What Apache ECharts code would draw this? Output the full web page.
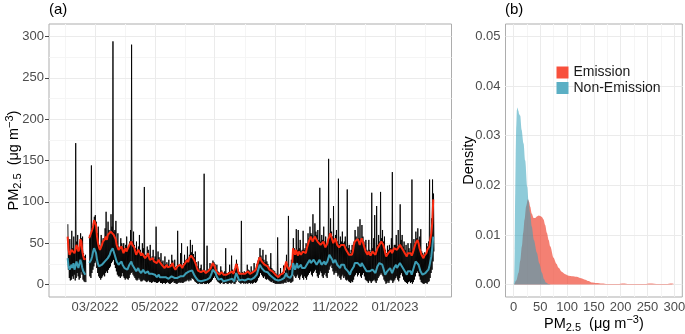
<!DOCTYPE html>
<html><head><meta charset="utf-8">
<script src="https://cdn.jsdelivr.net/npm/echarts/dist/echarts.min.js"></script>
<style>html,body{margin:0;padding:0;background:#fff}#c{width:685px;height:334px}</style>
</head><body><div id="c"></div>
<script>
// ---------- data ----------
const startDate = [2022, 1, 1]; // 1 Feb 2022 (UTC), daily values follow
// Emission (red) daily
const emission = [
 58,42,36,38,42,40,44,38,42,48,45,40,43,55,52,40,34,30,32,null,null,null,56,54,58,66,70,78,
 80,72,58,50,45,42,44,48,52,50,55,58,54,60,62,58,64,65,62,60,62,55,48,45,42,40,44,46,42,38,40,
 44,40,38,42,48,50,52,48,50,45,40,36,38,42,40,38,35,38,40,36,32,30,35,38,33,30,28,30,32,28,
 30,28,26,28,30,27,25,24,26,22,20,22,24,21,20,19,22,24,26,22,20,18,19,22,20,21,24,22,20,23,25,
 26,28,30,27,32,30,35,36,34,30,28,24,20,17,16,18,15,14,16,17,15,14,16,15,17,18,20,22,26,24,
 22,18,15,14,13,12,14,15,13,12,14,13,12,11,13,14,12,15,16,13,12,20,25,22,16,13,12,14,13,12,14,
 13,12,14,16,15,13,14,12,15,16,14,18,22,26,30,33,32,28,30,27,24,26,25,22,20,18,17,18,16,15,14,
 12,10,11,9,10,12,11,13,14,12,15,28,22,20,18,16,20,24,44,40,36,42,38,35,40,42,36,38,40,38,
 40,38,44,48,52,55,58,56,52,54,58,60,56,52,50,54,48,46,50,52,48,45,44,50,55,58,62,60,54,50,48,
 56,52,48,50,45,44,48,50,46,48,45,42,44,40,36,34,38,36,40,48,52,54,50,55,52,48,50,56,54,48,
 44,40,38,36,40,38,35,37,40,42,38,36,40,44,46,48,50,52,50,48,44,38,34,35,38,36,40,42,38,36,44,
 44,46,42,40,44,48,50,46,42,40,38,36,34,38,40,36,38,35,38,42,46,50,52,54,50,44,40,36,34,32,35,
 34,38,42,40,46,55,62,75,103
];
// Non-Emission (blue) daily
const nonEmission = [
 32,22,18,20,24,20,26,18,22,28,24,20,22,30,26,20,16,14,12,null,null,null,26,24,30,34,40,44,
 46,38,30,25,22,20,22,24,26,24,28,30,28,32,34,36,40,42,44,40,36,32,28,26,24,22,25,28,24,22,20,
 22,20,18,20,24,26,28,24,22,20,18,16,18,20,17,15,14,16,18,16,14,12,14,16,13,12,11,13,14,12,
 12,10,9,10,12,9,8,7,9,8,7,9,10,8,7,6,8,10,12,9,8,7,6,8,9,8,10,9,8,10,12,
 12,14,15,13,16,15,18,17,15,12,10,8,6,5,6,5,4,5,6,5,4,5,6,5,7,8,10,14,18,20,
 18,14,10,8,6,5,6,7,5,4,5,6,5,4,5,6,5,6,7,5,4,10,14,12,8,5,4,5,6,5,6,
 5,6,5,7,6,5,6,5,7,8,7,9,12,16,20,24,22,20,18,20,16,14,16,15,13,12,10,11,9,8,7,
 6,5,4,5,4,5,6,5,7,8,6,14,10,9,10,8,10,12,26,22,18,22,26,20,18,22,24,20,18,22,
 20,18,22,26,28,30,26,24,28,30,32,28,24,22,26,30,28,24,22,26,28,24,22,28,32,36,38,34,30,26,28,
 30,28,24,26,22,20,24,26,22,24,20,18,20,16,14,12,16,14,18,22,26,28,24,26,28,24,22,26,28,24,
 20,18,16,14,18,16,14,16,18,20,16,14,18,22,24,26,28,26,24,20,16,12,14,16,14,18,20,18,14,16,20,
 22,24,20,18,22,26,28,24,20,18,16,14,12,16,18,14,16,12,16,20,24,28,30,28,24,20,16,14,12,10,12,
 14,12,16,18,22,28,34,45,58
];
// Observed PM2.5 (black): daily minimum and daily maximum
const pmDailyLow = [
 18,8,5,6,10,7,12,5,8,14,10,6,8,15,12,6,4,3,3,null,null,null,10,8,14,18,22,26,
 28,20,14,10,8,6,8,10,12,10,14,16,14,18,20,22,26,28,30,24,20,16,12,10,10,8,10,14,10,8,6,
 8,7,6,8,12,14,15,12,10,8,6,5,6,8,6,4,4,5,6,5,4,3,4,5,3,3,2,3,4,3,
 3,2,2,3,4,2,2,1,2,2,1,2,3,2,1,1,2,3,4,2,2,1,1,2,3,2,3,2,2,3,4,
 4,5,6,4,6,5,8,7,6,4,3,2,1,1,2,1,1,1,2,1,1,1,2,1,2,3,4,6,8,10,
 8,6,4,3,2,1,2,3,1,1,2,2,1,1,2,2,1,2,3,1,1,3,6,5,3,2,1,2,2,1,2,
 1,2,1,2,2,1,2,1,2,3,2,3,5,8,10,14,12,10,8,10,7,6,7,6,5,4,3,4,2,2,1,
 1,1,1,1,1,1,2,1,2,3,2,5,3,3,4,2,3,4,12,10,8,10,12,8,6,10,12,8,6,10,
 8,6,10,12,14,16,12,10,14,16,18,14,10,8,12,16,14,10,8,12,14,10,8,14,18,22,24,20,16,12,14,
 16,14,10,12,8,6,10,12,8,10,6,5,6,4,3,2,4,3,6,10,12,14,10,12,14,10,8,12,14,10,
 6,5,4,2,5,4,2,4,5,6,4,2,5,8,10,12,14,12,10,6,4,1,2,4,2,5,6,5,2,4,6,
 8,10,6,4,8,12,14,10,6,4,3,2,1,3,4,2,3,1,3,6,10,14,16,14,10,6,3,2,1,1,2,
 2,1,3,4,8,14,18,28,40
];
const pmDailyHigh = [
 73,46,55,40,65,44,58,40,171,52,60,44,48,62,56,58,38,34,36,null,null,null,60,58,144,70,74,82,
 84,76,62,70,48,45,60,52,56,54,68,88,58,76,66,62,85,70,294,64,66,77,52,62,46,44,56,50,46,50,44,
 48,58,42,46,52,66,290,52,64,48,44,52,42,46,60,42,38,50,44,118,36,34,46,42,36,48,32,34,42,31,
 34,70,29,40,33,30,38,27,29,24,34,25,27,24,30,22,25,36,29,25,30,21,22,65,23,24,38,50,23,26,36,
 29,31,46,30,36,54,39,48,37,33,40,27,22,28,18,20,24,16,18,134,17,16,47,17,19,26,22,25,29,27,
 25,20,24,16,15,14,22,17,15,14,16,44,14,13,15,24,14,35,18,15,14,23,30,25,18,15,14,77,15,14,16,
 15,14,24,18,17,15,22,14,17,26,16,20,25,29,33,44,35,31,42,30,27,36,28,25,22,20,38,20,18,17,16,
 14,12,57,11,12,20,13,15,23,14,17,36,25,83,20,18,30,27,56,44,40,67,42,66,44,54,40,42,65,42,
 44,50,48,62,56,70,62,60,85,58,74,64,60,66,54,117,52,60,54,70,52,58,48,54,152,62,80,64,58,95,52,
 60,66,52,128,49,58,52,64,50,52,58,46,115,44,48,38,42,48,44,52,66,58,54,70,56,79,54,72,58,52,
 48,54,42,40,54,42,39,111,44,56,84,40,95,48,60,52,112,56,66,52,58,42,38,47,42,48,44,56,136,40,48,
 48,60,46,66,48,97,54,60,46,52,42,48,38,50,44,40,50,127,42,55,50,64,56,68,54,58,67,40,38,36,39,
 38,50,46,52,127,60,80,127,110
];
// Axis ticks
const xTickDates = ['2022-03-01','2022-05-01','2022-07-01','2022-09-01','2022-11-01','2023-01-01'];
const yTicksA = [0, 50, 100, 150, 200, 250, 300];
const densXTicks = [0, 50, 100, 150, 200, 250, 300];
const densYTicks = [0, 0.01, 0.02, 0.03, 0.04, 0.05];
// Density curves (panel b)
const emissionDensX = [1.5,5,9.4,12.5,15.6,18,20.6,23.5,26.8,29,31.2,34,37.5,40.5,43.6,47,49.8,53,56,59,62.3,65.5,68.5,74.7,80,84,90,96.5,103,109,118,126,134,140,146,155,165,175,185,195,205,215,230,245,255,270,285,295,300];
const emissionDens = [0,0.0008,0.0024,0.0048,0.0077,0.0104,0.0131,0.0158,0.0172,0.0167,0.0157,0.0143,0.0134,0.0134,0.0137,0.0139,0.0138,0.0136,0.0131,0.0120,0.0104,0.0090,0.0077,0.0054,0.0042,0.0034,0.0026,0.0021,0.0018,0.0017,0.0016,0.0013,0.0010,0.0007,0.0004,0.0003,0.0002,0.0001,0.0001,0.0001,0.0002,0.0001,0.0001,0.0001,0.0002,0.0001,0.0001,0.0002,0.0001];
const nonEmissionDensX = [0.5,1.3,2.2,3.2,4.1,5,6.3,7.5,9,10.5,12.5,15,18.7,21.8,25.6,27.8,31,34,38,43.6,48,53,57,60.5,65,70];
const nonEmissionDens = [0,0.0010,0.0070,0.0185,0.0262,0.0317,0.0352,0.0357,0.0350,0.0343,0.0340,0.0312,0.0284,0.0250,0.0197,0.0171,0.0144,0.0117,0.0090,0.0064,0.0043,0.0024,0.0011,0.0004,0.0001,0];

// ---------- build ----------
const DAY = 86400000;
const t0 = Date.UTC(startDate[0], startDate[1], startDate[2]);
const dayT = i => t0 + i * DAY;
const parseD = s => { const p = s.split('-').map(Number); return Date.UTC(p[0], p[1]-1, p[2]); };
const xTicksT = xTickDates.map(parseD);
const xMinorT = [];
xMinorT.push(xTicksT[0] - (xTicksT[1]-xTicksT[0])/2);
for (let i=0;i<xTicksT.length-1;i++) xMinorT.push((xTicksT[i]+xTicksT[i+1])/2);
xMinorT.push(xTicksT[xTicksT.length-1] + (xTicksT[xTicksT.length-1]-xTicksT[xTicksT.length-2])/2);
const mids = a => a.slice(0,-1).map((v,i)=>(v+a[i+1])/2);

const redData = emission.map((v,i)=>[dayT(i), v]);
const blueData = nonEmission.map((v,i)=>[dayT(i), v]);
const blackData = [];
pmDailyLow.forEach((lo,i)=>{
  blackData.push([dayT(i) + 0.25*DAY, pmDailyHigh[i]]);
  blackData.push([dayT(i) + 0.75*DAY, lo]);
});
const emDensData = emissionDensX.map((x,i)=>[x, emissionDens[i]]);
const neDensData = nonEmissionDensX.map((x,i)=>[x, nonEmissionDens[i]]);

const MAJ = '#EBEBEB', MIN = '#F5F5F5';
const FONT = 'Liberation Sans, Arial, sans-serif';
const vl = (vals, c, w) => vals.map(v=>({xAxis: v, lineStyle:{color:c, width:w, type:'solid'}}));
const hl = (vals, c, w) => vals.map(v=>({yAxis: v, lineStyle:{color:c, width:w, type:'solid'}}));
const gridMark = (data) => ({ silent:true, symbol:['none','none'], z:1, animation:false,
  label:{show:false}, emphasis:{disabled:true}, data });

const fmtMonth = v => { const d = new Date(v); const m = d.getUTCMonth()+1; return (m<10?'0':'')+m+'/'+d.getUTCFullYear(); };
const pmRich = {
  sub: {fontSize: 11, lineHeight: 11, padding: [8,0,0,0], fontFamily: FONT, color:'#000'},
  sup: {fontSize: 11, lineHeight: 11, padding: [0,0,8,0], fontFamily: FONT, color:'#000'}
};
const pmName = 'PM{sub|2.5}  (μg m{sup|−3})';
const tickStyle = {show:true, length:4, inside:false, lineStyle:{color:'#444', width:1}};
const lblStyle = {color:'#4D4D4D', fontSize:13, fontFamily:FONT};

const option = {
  animation: false,
  backgroundColor: '#fff',
  textStyle: {fontFamily: FONT},
  grid: [
    {left:49, top:24, width:402.5, height:273, show:true, borderColor:'#ADADAD', borderWidth:1, backgroundColor:'rgba(0,0,0,0)', containLabel:false, outerBoundsMode:'none'},
    {left:505.5, top:24, width:176.8, height:273, show:true, borderColor:'#ADADAD', borderWidth:1, backgroundColor:'rgba(0,0,0,0)', containLabel:false, outerBoundsMode:'none'}
  ],
  xAxis: [
    {type:'value', gridIndex:0, min: dayT(-19.0), max: dayT(391.6), scale:true,
     axisLine:{show:false}, splitLine:{show:false}, minorSplitLine:{show:false},
     axisTick:Object.assign({customValues: xTicksT}, tickStyle),
     axisLabel:Object.assign({customValues: xTicksT, formatter: fmtMonth, margin:4}, lblStyle)},
    {type:'value', gridIndex:1, min:-15, max:315,
     axisLine:{show:false}, splitLine:{show:false},
     axisTick:Object.assign({customValues: densXTicks}, tickStyle),
     axisLabel:Object.assign({customValues: densXTicks, margin:4}, lblStyle),
     name: pmName, nameLocation:'middle', nameGap:19, nameMoveOverlap:false,
     nameTextStyle:{fontSize:14.5, color:'#000', fontFamily:FONT, rich: pmRich}}
  ],
  yAxis: [
    {type:'value', gridIndex:0, min:-15, max:315,
     axisLine:{show:false}, splitLine:{show:false},
     axisTick:Object.assign({customValues: yTicksA}, tickStyle),
     axisLabel:Object.assign({customValues: yTicksA, margin:5}, lblStyle),
     name: pmName, nameLocation:'middle', nameGap:28, nameRotate:90, nameMoveOverlap:false,
     nameTextStyle:{fontSize:14.5, color:'#000', fontFamily:FONT, rich: pmRich}},
    {type:'value', gridIndex:1, min:-0.0025, max:0.0525,
     axisLine:{show:false}, splitLine:{show:false},
     axisTick:Object.assign({customValues: densYTicks}, tickStyle),
     axisLabel:Object.assign({customValues: densYTicks, margin:5, formatter: v => v.toFixed(2)}, lblStyle),
     name:'Density', nameLocation:'middle', nameGap:29.5, nameRotate:90, nameMoveOverlap:false,
     nameTextStyle:{fontSize:14.5, color:'#000', fontFamily:FONT}}
  ],
  legend: {
    data: [
      {name:'Emission', icon:'rect', itemStyle:{color:'#F8503C', borderWidth:0}},
      {name:'Non-Emission', icon:'rect', itemStyle:{color:'#5BAFC4', borderWidth:0}}
    ],
    orient:'vertical', left:556.5, top:65.5, padding:0, itemGap:1.5, itemWidth:12, itemHeight:12,
    selectedMode:false, textStyle:{fontSize:14, color:'#1A1A1A', fontFamily:FONT}
  },
  graphic: [
    {type:'text', left:49, top:2, style:{text:'(a)', fontSize:15, fill:'#000', fontFamily:FONT}},
    {type:'text', left:505, top:2, style:{text:'(b)', fontSize:15, fill:'#000', fontFamily:FONT}}
  ],
  series: [
    {type:'line', name:'gridA', xAxisIndex:0, yAxisIndex:0, data:[], silent:true,
     markLine: gridMark([].concat(vl(xMinorT, MIN, 1), hl(mids(yTicksA), MIN, 1), vl(xTicksT, MAJ, 1), hl(yTicksA, MAJ, 1)))},
    {type:'line', name:'gridB', xAxisIndex:1, yAxisIndex:1, data:[], silent:true,
     markLine: gridMark([].concat(vl(mids(densXTicks), MIN, 1), hl(mids(densYTicks), MIN, 1), vl(densXTicks, MAJ, 1), hl(densYTicks, MAJ, 1)))},
    {type:'line', name:'PM2.5', xAxisIndex:0, yAxisIndex:0, data: blackData, showSymbol:false, symbol:'none',
     connectNulls:false, lineStyle:{color:'#000', width:0.9}, itemStyle:{color:'#000'}, z:2, silent:true},
    {type:'line', name:'EmissionLine', xAxisIndex:0, yAxisIndex:0, data: redData, showSymbol:false, symbol:'none',
     connectNulls:false, lineStyle:{color:'#FA2A10', width:2}, itemStyle:{color:'#FA2A10'}, z:3, silent:true},
    {type:'line', name:'NonEmissionLine', xAxisIndex:0, yAxisIndex:0, data: blueData, showSymbol:false, symbol:'none',
     connectNulls:false, lineStyle:{color:'#3C9DB5', width:2}, itemStyle:{color:'#3C9DB5'}, z:4, silent:true},
    {type:'line', name:'Emission', xAxisIndex:1, yAxisIndex:1, data: emDensData, showSymbol:false, symbol:'none',
     smooth:0.3, smoothMonotone:'x', lineStyle:{width:0, color:'rgba(238,60,40,0.65)'}, itemStyle:{color:'#F8503C'},
     areaStyle:{color:'rgba(238,60,40,0.65)', opacity:1}, z:2, silent:true},
    {type:'line', name:'Non-Emission', xAxisIndex:1, yAxisIndex:1, data: neDensData, showSymbol:false, symbol:'none',
     smooth:0.3, smoothMonotone:'x', lineStyle:{width:0, color:'rgba(50,160,185,0.55)'}, itemStyle:{color:'#5BAFC4'},
     areaStyle:{color:'rgba(50,160,185,0.55)', opacity:1}, z:3, silent:true}
  ]
};
const chart = echarts.init(document.getElementById('c'), null, {renderer:'canvas', width:685, height:334});
chart.setOption(option);
</script>
</body></html>
